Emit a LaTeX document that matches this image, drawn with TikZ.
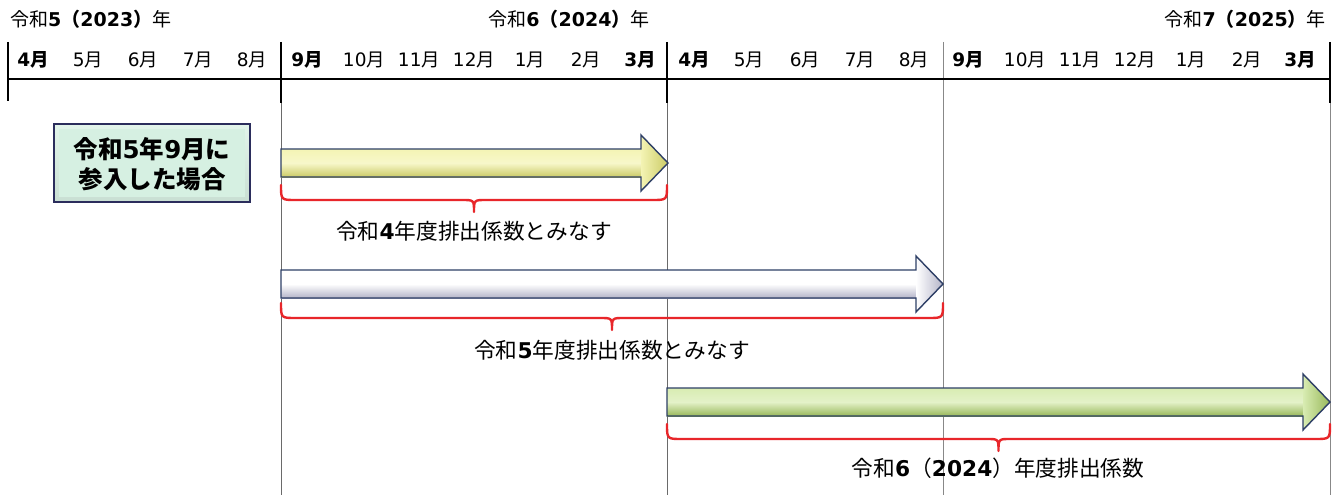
\documentclass[tikz,border=0pt]{standalone}
\usepackage{fontspec}
\setmainfont{DejaVu Sans}
\newfontfamily\jp{Noto Sans CJK JP}
\newcommand\J[1]{{\jp #1}}
\usetikzlibrary{calc}
\definecolor{navy}{HTML}{2E3F66}
\definecolor{bracered}{HTML}{E8262A}
\definecolor{gridgray}{HTML}{6A6A6A}
\definecolor{boxfill}{HTML}{D6F0E2}
\definecolor{boxedge}{HTML}{2B2D5C}
\definecolor{ylight}{HTML}{F4F4B4}
\definecolor{ydark}{HTML}{CBCB66}
\definecolor{wlight}{HTML}{FFFFFF}
\definecolor{wdark}{HTML}{B4B4C8}
\definecolor{glight}{HTML}{D8ECB2}
\definecolor{gdark}{HTML}{98B85A}
\tikzset{
  axis/.style={line width=1.8pt, black},
  thin grid/.style={line width=0.6pt, gridgray},
  mon/.style={font=\fontsize{18.5}{18.5}\selectfont, anchor=center, inner sep=0pt},
  yr/.style={font=\fontsize{19}{19}\selectfont, inner sep=0pt},
  lab/.style={font=\fontsize{21.7}{21.7}\selectfont, inner sep=0pt},
  brace/.style={bracered, line width=2.4pt, line cap=round, line join=round},
  arrowedge/.style={navy, line width=1.4pt, line join=miter},
}
% #1 x0, #2 xtip, #3 yc, #4 light, #5 dark, #6 name
\newcommand\bigarrow[6]{%
  \coordinate (#6s) at (#1,#3);
  \coordinate (#6t) at (#2,#3);
  \shade[top color=#4, bottom color=#5, middle color=#4!70!white]
    (#1,#3-14) rectangle (#2-27,#3+14);
  \shade[left color=#4, right color=#5]
    (#2-27,#3-28) -- (#2,#3) -- (#2-27,#3+28) -- cycle;
  \draw[arrowedge] (#1,#3-14) -- (#2-27,#3-14) -- (#2-27,#3-28) -- (#2,#3)
    -- (#2-27,#3+28) -- (#2-27,#3+14) -- (#1,#3+14) -- cycle;
}
% #1 x0, #2 x1, #3 ytop, #4 yline, name #5
\newcommand\redbrace[5]{%
  \coordinate (#5c) at ({(#1+#2)/2},#4+12);
  \draw[brace] (#1,#3) .. controls (#1,#4) .. (#1+15,#4)
    -- ({(#1+#2)/2-12},#4) .. controls ({(#1+#2)/2},#4) .. ({(#1+#2)/2},#4+12)
    .. controls ({(#1+#2)/2},#4) .. ({(#1+#2)/2+12},#4)
    -- (#2-15,#4) .. controls (#2,#4) .. (#2,#3);
}
\begin{document}
\begin{tikzpicture}[x=1pt,y=-1pt]
\useasboundingbox (0,0) rectangle (1335,495);
\fill[white] (0,0) rectangle (1335,495);
% thin vertical grid lines
\draw[thin grid] (281,100) -- (281,495);
\draw[thin grid] (667,100) -- (667,495);
\draw[thin grid, gridgray!80] (943,42) -- (943,495);
\draw[thin grid, gridgray!80] (1330,100) -- (1330,495);
% axis
\draw[axis] (8,79) -- (1331,79);
\draw[axis] (8,42) -- (8,101);
\draw[axis] (281,42) -- (281,103);
\draw[axis] (667,42) -- (667,103);
\draw[axis] (1330,42) -- (1330,103);
% year titles
\node[yr, anchor=west] (y1) at (10,19) {\J{令和}\textbf{5}\J{\textbf{（}}\textbf{2023}\J{\textbf{）}年}};
\node[yr] (y2) at (569,19) {\J{令和}\textbf{6}\J{\textbf{（}}\textbf{2024}\J{\textbf{）}年}};
\node[yr, anchor=east] (y3) at (1326,19) {\J{令和}\textbf{7}\J{\textbf{（}}\textbf{2025}\J{\textbf{）}年}};
% months
\node[mon] (m1) at (33,60) {\textbf{4}\J{\textbf{月}}};
\node[mon] (m2) at (88,60) {5\J{月}};
\node[mon] (m3) at (143,60) {6\J{月}};
\node[mon] (m4) at (198,60) {7\J{月}};
\node[mon] (m5) at (252,60) {8\J{月}};
\node[mon] (m6) at (307,60) {\textbf{9}\J{\textbf{月}}};
\node[mon] (m7) at (364,60) {10\J{月}};
\node[mon] (m8) at (419,60) {11\J{月}};
\node[mon] (m9) at (474,60) {12\J{月}};
\node[mon] (m10) at (530,60) {1\J{月}};
\node[mon] (m11) at (586,60) {2\J{月}};
\node[mon] (m12) at (640,60) {\textbf{3}\J{\textbf{月}}};
\node[mon] (m13) at (694,60) {\textbf{4}\J{\textbf{月}}};
\node[mon] (m14) at (749,60) {5\J{月}};
\node[mon] (m15) at (805,60) {6\J{月}};
\node[mon] (m16) at (860,60) {7\J{月}};
\node[mon] (m17) at (914,60) {8\J{月}};
\node[mon] (m18) at (968,60) {\textbf{9}\J{\textbf{月}}};
\node[mon] (m19) at (1025,60) {10\J{月}};
\node[mon] (m20) at (1080,60) {11\J{月}};
\node[mon] (m21) at (1135,60) {12\J{月}};
\node[mon] (m22) at (1191,60) {1\J{月}};
\node[mon] (m23) at (1247,60) {2\J{月}};
\node[mon] (m24) at (1300,60) {\textbf{3}\J{\textbf{月}}};
% box
\shade[top color=boxfill!70!white, bottom color=boxfill!85!gray] (54,124) rectangle (250,202);
\fill[boxfill] (59,129) rectangle (245,197);
\draw[boxedge, line width=2.6pt] (54,124) rectangle (250,202);
\node[font=\fontsize{24.5}{29}\selectfont\bfseries, align=center, inner sep=0pt] (box) at (152,164)
  {\J{令和}5\J{年}9\J{月に}\\[1pt]\J{参入した場合}};
% arrows
\bigarrow{281}{668}{163}{ylight}{ydark}{a1}
\bigarrow{281}{943}{284}{wlight}{wdark}{a2}
\bigarrow{667}{1330}{402}{glight}{gdark}{a3}
% braces
\redbrace{281}{667}{185}{200}{b1}
\redbrace{281}{943}{303}{318}{b2}
\redbrace{667}{1330}{424}{439}{b3}
% labels
\node[lab] (l1) at (474,231) {\J{令和}\textbf{4}\J{年度排出係数とみなす}};
\node[lab] (l2) at (612,350) {\J{令和}\textbf{5}\J{年度排出係数とみなす}};
\node[lab] (l3) at (998,468) {\J{令和}\textbf{6}\J{（}\textbf{2024}\J{）年度排出係数}};
\end{tikzpicture}
\end{document}
